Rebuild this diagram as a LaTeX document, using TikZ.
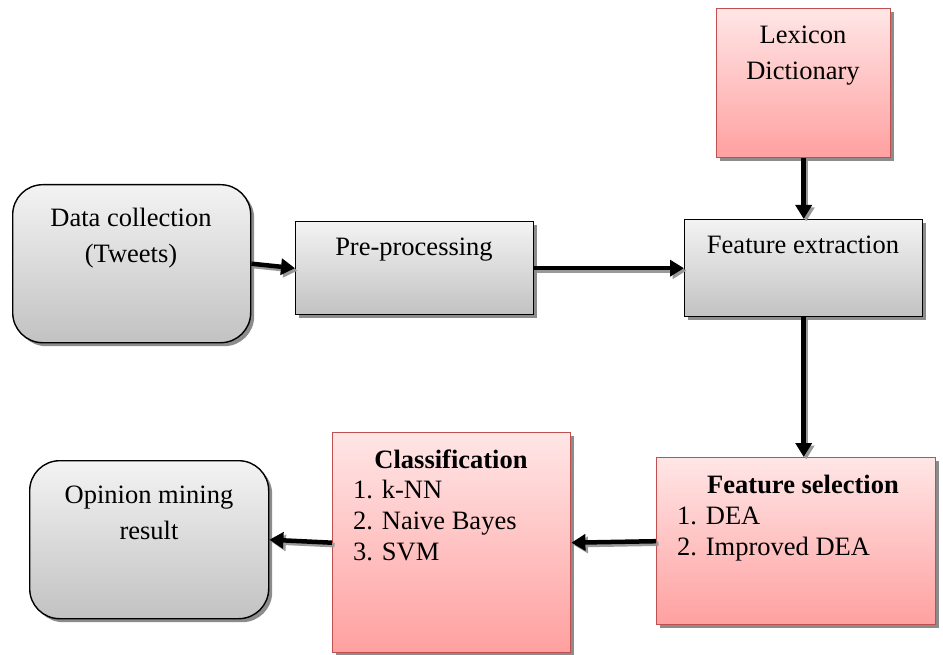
\documentclass[tikz,border=0pt]{standalone}
\usepackage{fontspec}
\setmainfont{Liberation Serif}
\usetikzlibrary{shadows,arrows.meta}
\definecolor{graytop}{HTML}{F3F3F3}
\definecolor{graybot}{HTML}{C2C2C2}
\definecolor{pinktop}{HTML}{FFE6E6}
\definecolor{pinkbot}{HTML}{FFA0A0}
\definecolor{pinkborder}{HTML}{C0504D}
\begin{document}
\begin{tikzpicture}[x=1pt,y=-1pt,
  boxshadow/.style={drop shadow={shadow xshift=3.5pt,shadow yshift=-3.5pt,fill=black!45,opacity=1}},
  graybox/.style={draw=black, line width=1.4pt, top color=graytop, bottom color=graybot, boxshadow, inner sep=0pt, anchor=north west},
  pinkbox/.style={draw=pinkborder, line width=1.4pt, top color=pinktop, bottom color=pinkbot, boxshadow, inner sep=0pt, anchor=north west},
  txt/.style={font=\fontsize{26.5}{36}\selectfont, inner sep=0pt, anchor=base},
  ltxt/.style={txt, anchor=base west},
  btxt/.style={txt, font=\fontsize{26.5}{36}\selectfont\bfseries},
  conn/.style={line width=4.5pt, -{Triangle[length=14pt,width=16pt]}},
  connshadow/.style={conn, draw=black!40, transform canvas={shift={(2.5pt,-2.5pt)}}}
]
\fill[white] (0,0) rectangle (943,655);
\useasboundingbox (0,0) rectangle (943,655);

% boxes
\node[graybox, rounded corners=30pt, minimum width=238pt, minimum height=158pt] (data) at (12,184) {};
\node[graybox, minimum width=238pt, minimum height=93pt] (pre) at (295,221) {};
\node[graybox, minimum width=238pt, minimum height=97pt] (fe) at (684,219) {};
\node[pinkbox, minimum width=174pt, minimum height=149pt] (lex) at (716,8) {};
\node[pinkbox, minimum width=279pt, minimum height=167pt] (fs) at (656,457) {};
\node[pinkbox, minimum width=238pt, minimum height=220pt] (cls) at (332,432) {};
\node[graybox, rounded corners=30pt, minimum width=239pt, minimum height=158pt] (op) at (29,460) {};

% texts
\node[txt] (t1) at (131,227) {Data collection};
\node[txt] (t2) at (131,263) {(Tweets)};
\node[txt] (t3) at (414,256) {Pre-processing};
\node[txt] (t4) at (803,254) {Feature extraction};
\node[txt] (t5) at (803,44) {Lexicon};
\node[txt] (t6) at (803,80) {Dictionary};
\node[btxt] (t7) at (803,493) {Feature selection};
\node[ltxt] (t8) at (677,524) {1. DEA};
\node[ltxt] (t9) at (677,555) {2. Improved DEA};
\node[btxt] (t10) at (451,468) {Classification};
\node[ltxt] (t11) at (353,498) {1. k-NN};
\node[ltxt] (t12) at (353,529) {2. Naive Bayes};
\node[ltxt] (t13) at (353,560) {3. SVM};
\node[txt] (t14) at (149,503) {Opinion mining};
\node[txt] (t15) at (149,539) {result};

% connector shadows
\draw[connshadow] (data.east) -- (pre.west);
\draw[connshadow] (pre.east) -- (fe.west);
\draw[connshadow] (lex.south) -- (fe.north);
\draw[connshadow] (fe.south) -- (fe.south |- fs.north);
\draw[connshadow] (fs.west) -- (cls.east);
\draw[connshadow] (cls.west) -- (op.east);
% connectors
\draw[conn] (data.east) -- (pre.west);
\draw[conn] (pre.east) -- (fe.west);
\draw[conn] (lex.south) -- (fe.north);
\draw[conn] (fe.south) -- (fe.south |- fs.north);
\draw[conn] (fs.west) -- (cls.east);
\draw[conn] (cls.west) -- (op.east);
\end{tikzpicture}
\end{document}
